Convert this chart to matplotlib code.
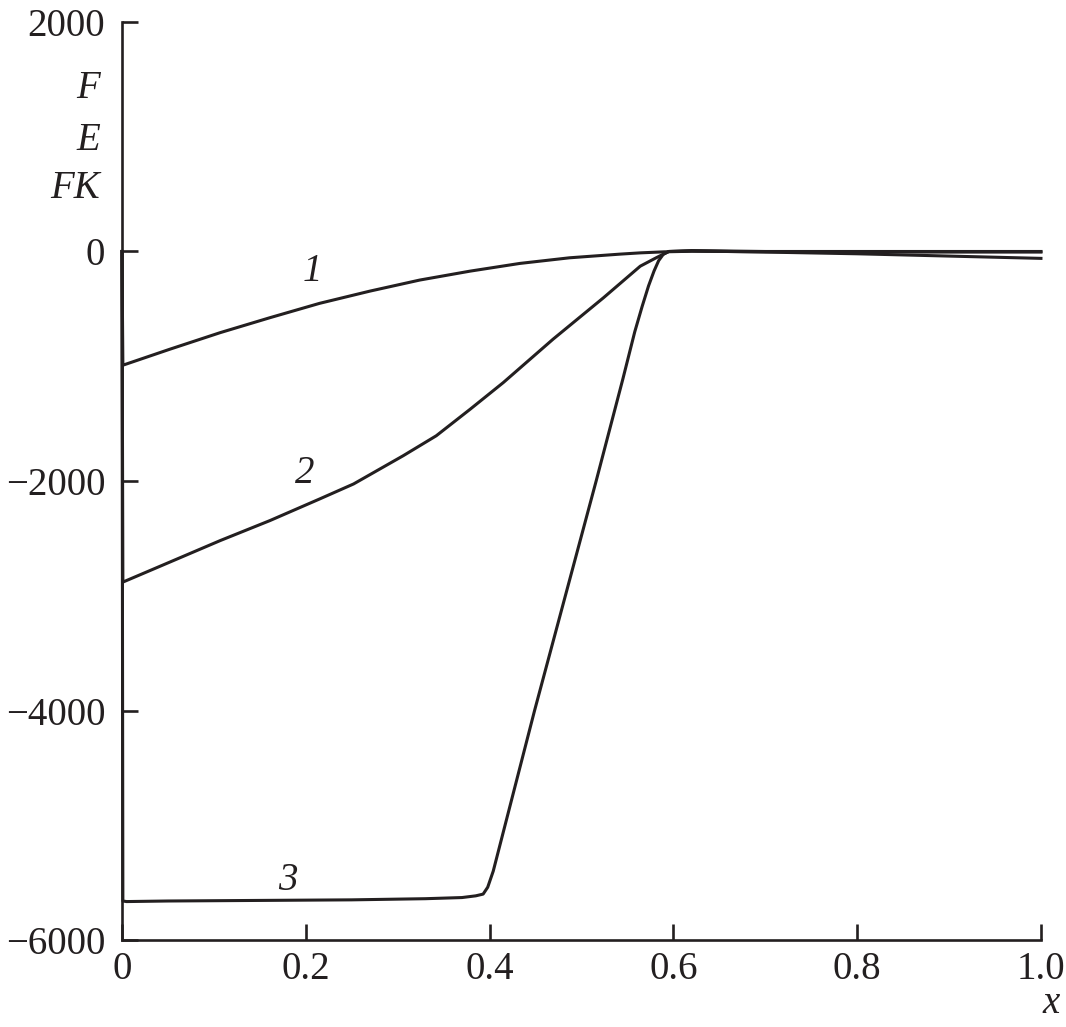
import matplotlib
matplotlib.use("Agg")
import matplotlib.pyplot as plt

plt.rcParams['font.family'] = ['Liberation Serif', 'DejaVu Serif']

ink = '#231f20'

# curve 1
x1 = [0.0, 0.001, 0.052, 0.107, 0.161, 0.215, 0.270, 0.324, 0.379, 0.433, 0.487,
      0.542, 0.564, 0.59, 0.62, 0.7, 0.8, 0.9, 1.0]
y1 = [0, -991, -852, -707, -577, -452, -345, -249, -171, -104, -55,
      -23, -12, -3, 2, -2, -4, -5, -5]

# curve 2
x2 = [0.0, 0.001, 0.052, 0.107, 0.161, 0.215, 0.252, 0.306, 0.342, 0.379, 0.415,
      0.469, 0.524, 0.564, 0.582, 0.595, 0.62, 0.7, 0.8, 0.9, 1.0]
y2 = [0, -2881, -2707, -2519, -2345, -2157, -2026, -1780, -1606, -1374, -1142,
      -765, -403, -128, -52, 0, 5, -5, -20, -40, -60]

# curve 3
x3 = [0.0, 0.001, 0.005, 0.05, 0.15, 0.25, 0.33, 0.37, 0.385, 0.393, 0.398, 0.404,
      0.449, 0.516, 0.545, 0.558, 0.566, 0.573, 0.579, 0.584, 0.589, 0.595, 0.62,
      0.7, 0.8, 0.9, 1.0]
y3 = [0, -5660, -5665, -5660, -5655, -5650, -5640, -5630, -5615, -5600, -5540, -5400,
      -4000, -2000, -1113, -700, -480, -300, -170, -80, -25, 0, 8,
      0, 0, 0, 0]

xticks = [0, 0.2, 0.4, 0.6, 0.8, 1.0]
xtick_labels = ['0', '0.2', '0.4', '0.6', '0.8', '1.0']
yticks = [-6000, -4000, -2000, 0, 2000]
ytick_labels = ['\u22126000', '\u22124000', '\u22122000', '0', '2000']

fig = plt.figure(figsize=(10.66, 10.27), dpi=100)
ax = fig.add_axes([0.1144, 0.0847, 0.8621, 0.8939])

for xs, ys in [(x1, y1), (x2, y2), (x3, y3)]:
    ax.plot(xs, ys, color=ink, lw=2.2, solid_joinstyle='round', clip_on=False)

ax.set_xlim(0, 1.0)
ax.set_ylim(-6000, 2000)
ax.set_xticks(xticks)
ax.set_xticklabels(xtick_labels)
ax.set_yticks(yticks)
ax.set_yticklabels(ytick_labels)

for side in ['top', 'right']:
    ax.spines[side].set_visible(False)
for side in ['left', 'bottom']:
    ax.spines[side].set_linewidth(1.9)
    ax.spines[side].set_color(ink)

ax.tick_params(direction='in', length=11.5, width=1.9, color=ink, labelcolor=ink,
               labelsize=28)
ax.tick_params(axis='x', pad=8)
ax.tick_params(axis='y', pad=12)

# curve numbers
ax.text(0.207, -174, '1', fontsize=28, style='italic', color=ink, ha='center', va='center')
ax.text(0.199, -1939, '2', fontsize=28, style='italic', color=ink, ha='center', va='center')
ax.text(0.181, -5478, '3', fontsize=28, style='italic', color=ink, ha='center', va='center')

# axis names
for txt, yy in [('F', 0.928), ('E', 0.871), ('FK', 0.819)]:
    ax.text(-0.024, yy, txt, transform=ax.transAxes, fontsize=28, style='italic',
            color=ink, ha='right', va='center')
ax.text(1.011, -0.069, 'x', transform=ax.transAxes, fontsize=28, style='italic',
        color=ink, ha='center', va='center')

fig.savefig('out.png', dpi=100)
